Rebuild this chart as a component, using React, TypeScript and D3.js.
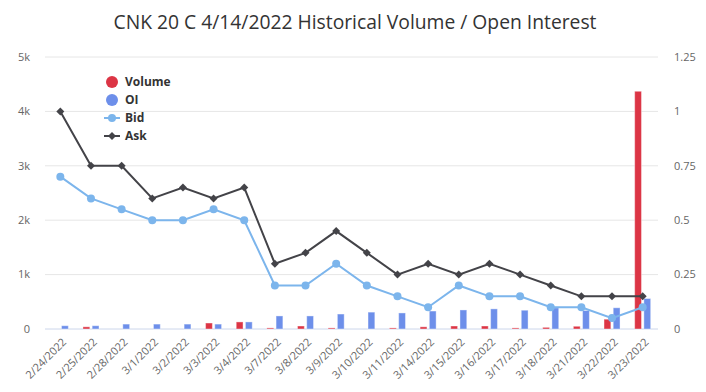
import React, { useEffect } from "react";
import * as d3 from "d3";

const categories = [
  "2/24/2022", "2/25/2022", "2/28/2022", "3/1/2022", "3/2/2022", "3/3/2022", "3/4/2022",
  "3/7/2022", "3/8/2022", "3/9/2022", "3/10/2022", "3/11/2022", "3/14/2022", "3/15/2022",
  "3/16/2022", "3/17/2022", "3/18/2022", "3/21/2022", "3/22/2022", "3/23/2022",
];
const volume = [0, 40, 0, 0, 0, 110, 130, 20, 55, 20, 0, 20, 40, 55, 55, 20, 30, 50, 180, 4370];
const oi = [60, 60, 90, 90, 90, 90, 130, 240, 240, 275, 310, 295, 330, 350, 370, 345, 390, 340, 390, 560];
const bid = [0.7, 0.6, 0.55, 0.5, 0.5, 0.55, 0.5, 0.2, 0.2, 0.3, 0.2, 0.15, 0.1, 0.2, 0.15, 0.15, 0.1, 0.1, 0.05, 0.1];
const ask = [1.0, 0.75, 0.75, 0.6, 0.65, 0.6, 0.65, 0.3, 0.35, 0.45, 0.35, 0.25, 0.3, 0.25, 0.3, 0.25, 0.2, 0.15, 0.15, 0.15];
const leftTicks = [0, 1000, 2000, 3000, 4000, 5000];
const rightTicks = [0, 0.25, 0.5, 0.75, 1, 1.25];

const W = 706, H = 392;
const plotL = 45, plotR = 658, plotT = 57, plotB = 329;
const FONT = "'Open Sans', 'DejaVu Sans', sans-serif";
const C_VOL = "#dc3545", C_OI = "#6d8fea", C_BID = "#7cb5ec", C_ASK = "#434348";

export default function App() {
  useEffect(() => {
    document.body.style.margin = "0";
  }, []);

  const x = d3.scaleBand<string>().domain(categories).range([plotL, plotR]);
  const bw = x.bandwidth();
  const yL = d3.scaleLinear().domain([0, 5000]).range([plotB, plotT]);
  const yR = d3.scaleLinear().domain([0, 1.25]).range([plotB, plotT]);
  const cx = (c: string) => (x(c) as number) + bw / 2;

  const groupW = bw * 0.6;
  const slot = groupW / 2;
  const barW = slot * 0.74;
  const pad = (slot - barW) / 2;

  const bidLine = d3.line<number>().x((_, i) => cx(categories[i])).y((d) => yR(d));
  const askLine = d3.line<number>().x((_, i) => cx(categories[i])).y((d) => yR(d));
  const diamond = (px: number, py: number, r: number) =>
    `M${px},${py - r}L${px + r},${py}L${px},${py + r}L${px - r},${py}Z`;

  const fmtL = (v: number) => (v === 0 ? "0" : `${v / 1000}k`);

  return (
    <svg width={W} height={H} style={{ display: "block", fontFamily: FONT }}>
      <rect width={W} height={H} fill="#fff" />
      <text x={355} y={29} textAnchor="middle" fontSize={19.3} fill="#333">
        CNK 20 C 4/14/2022 Historical Volume / Open Interest
      </text>
      {leftTicks.map((t) => (
        <line key={"g" + t} x1={plotL} x2={plotR} y1={yL(t)} y2={yL(t)} stroke={t === 0 ? "#ccd6eb" : "#e6e6e6"} strokeWidth={1} />
      ))}
      {leftTicks.map((t) => (
        <text key={"l" + t} x={30} y={yL(t)} dy="0.35em" textAnchor="end" fontSize={11} fill="#666">
          {fmtL(t)}
        </text>
      ))}
      {rightTicks.map((t) => (
        <text key={"r" + t} x={674} y={yR(t)} dy="0.35em" textAnchor="start" fontSize={11} fill="#666">
          {String(t)}
        </text>
      ))}
      {categories.map((c, i) => {
        const x0 = x(c) as number;
        const g0 = x0 + (bw - groupW) / 2;
        return (
          <g key={"b" + c}>
            {volume[i] > 0 && (
              <rect x={g0 + pad} y={yL(volume[i])} width={barW} height={plotB - yL(volume[i])} fill={C_VOL} stroke="#fff" strokeOpacity={0.4} strokeWidth={1} />
            )}
            {oi[i] > 0 && (
              <rect x={g0 + slot + pad} y={yL(oi[i])} width={barW} height={plotB - yL(oi[i])} fill={C_OI} stroke="#fff" strokeOpacity={0.4} strokeWidth={1} />
            )}
          </g>
        );
      })}
      <path d={bidLine(bid) || ""} fill="none" stroke={C_BID} strokeWidth={2} />
      {bid.map((v, i) => (
        <circle key={"bm" + i} cx={cx(categories[i])} cy={yR(v)} r={4} fill={C_BID} />
      ))}
      <path d={askLine(ask) || ""} fill="none" stroke={C_ASK} strokeWidth={2} />
      {ask.map((v, i) => (
        <path key={"am" + i} d={diamond(cx(categories[i]), yR(v), 4)} fill={C_ASK} />
      ))}
      {categories.map((c) => (
        <text key={"x" + c} transform={`translate(${cx(c) + 4},${340}) rotate(-45)`} textAnchor="end" fontSize={11} fill="#666" dy="0.35em">
          {c}
        </text>
      ))}
      <g fontSize={12} fontWeight="bold" fill="#333">
        <circle cx={112} cy={82} r={6} fill={C_VOL} />
        <text x={125} y={82} dy="0.35em">Volume</text>
        <circle cx={112} cy={100} r={6} fill={C_OI} />
        <text x={125} y={100} dy="0.35em">OI</text>
        <line x1={104} x2={120} y1={118} y2={118} stroke={C_BID} strokeWidth={2} />
        <circle cx={112} cy={118} r={4} fill={C_BID} />
        <text x={125} y={118} dy="0.35em">Bid</text>
        <line x1={104} x2={120} y1={136} y2={136} stroke={C_ASK} strokeWidth={2} />
        <path d={diamond(112, 136, 4)} fill={C_ASK} />
        <text x={125} y={136} dy="0.35em">Ask</text>
      </g>
    </svg>
  );
}
